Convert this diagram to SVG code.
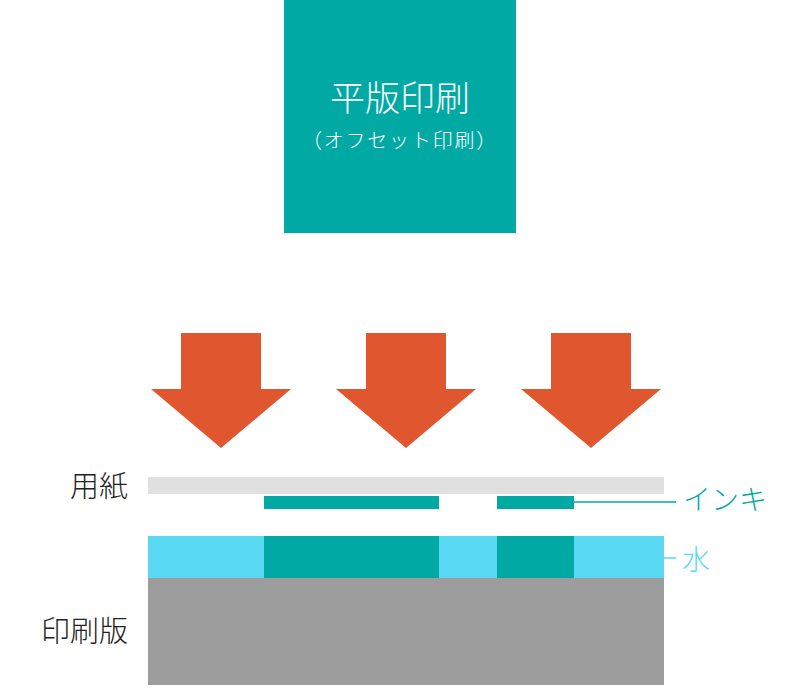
<svg xmlns="http://www.w3.org/2000/svg" width="800" height="692" viewBox="0 0 800 692">
<style>
.jp{font-family:"Noto Sans CJK JP","Noto Sans",sans-serif;font-weight:300;}
.arrow{fill:#E0572F;}
.teal{fill:#00A9A4;}
.water{fill:#58D9F1;}
</style>
<defs>
<polygon id="arr" points="-40,0 40,0 40,56 70,56 0,115 -70,56 -40,56"/>
</defs>
<rect width="800" height="692" fill="#FFFFFF"/>
<g id="title">
<rect x="284" y="0" width="232" height="233" class="teal"/>
<text x="400" y="111" class="jp" font-size="35" fill="#FFFFFF" text-anchor="middle">平版印刷</text>
<text x="400" y="148" class="jp" font-size="20" fill="#FFFFFF" text-anchor="middle" letter-spacing="1.8">（オフセット印刷）</text>
</g>
<g id="arrows">
<use href="#arr" x="221" y="333" class="arrow"/>
<use href="#arr" x="406" y="333" class="arrow"/>
<use href="#arr" x="591" y="333" class="arrow"/>
</g>
<g id="paper">
<rect x="148" y="477" width="516" height="17" fill="#E0E0E0"/>
<text x="128" y="497" class="jp" font-size="29" fill="#222222" text-anchor="end">用紙</text>
</g>
<g id="ink">
<rect x="264" y="496" width="175" height="13" class="teal"/>
<rect x="497" y="496" width="77" height="13" class="teal"/>
<text x="683" y="510" class="jp" font-size="28" fill="#00A9A4">インキ</text>
</g>
<g id="water">
<rect x="148" y="536" width="516" height="42" class="water"/>
<rect x="264" y="536" width="175" height="42" class="teal"/>
<rect x="497" y="536" width="77" height="42" class="teal"/>
<text x="682" y="570" class="jp" font-size="28" fill="#58D9F1">水</text>
</g>
<g id="plate">
<rect x="148" y="578" width="516" height="107" fill="#9D9D9D"/>
<text x="128" y="642" class="jp" font-size="29" fill="#222222" text-anchor="end">印刷版</text>
</g>
<g id="connectors" fill="none" stroke-width="1.5">
<line x1="574" y1="502" x2="676" y2="502" stroke="#00A9A4"/>
<line x1="664" y1="558" x2="676" y2="558" stroke="#58D9F1"/>
</g>
</svg>
